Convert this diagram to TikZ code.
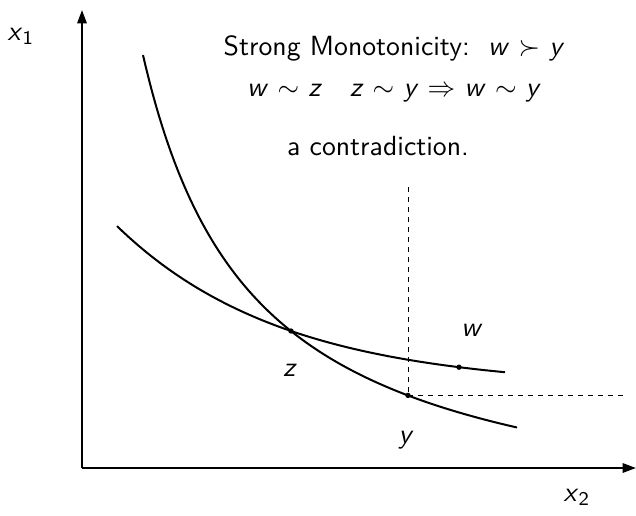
\documentclass[tikz,border=0pt]{standalone}
\usetikzlibrary{arrows.meta}
\usepackage{amsmath}
\newcommand{\mvar}[1]{\textsf{\textit{#1}}}
\tikzset{
  axis/.style={line width=1.5pt, -{Triangle[length=10pt,width=7pt]}},
  curve/.style={line width=1.5pt},
  guide/.style={line width=0.6pt, dash pattern=on 4pt off 3.5pt},
  lbl/.style={font=\sffamily, scale=2.08, inner sep=0pt},
  pt/.style={circle, fill=black, inner sep=0pt, minimum size=4pt}
}
\begin{document}
\begin{tikzpicture}[x=0.75pt,y=-0.75pt]
\useasboundingbox (0,0) rectangle (636,515);
% axes
\coordinate (O) at (82,468);
\coordinate (ytop) at (82,10);
\coordinate (xend) at (636,468);
\draw[axis] (O) -- (ytop);
\draw[axis] (O) -- (xend);
\node[lbl] (lx1) at (21,36) {$\mvar{x}_{\textsf{1}}$};
\node[lbl] (lx2) at (577,497) {$\mvar{x}_{\textsf{2}}$};
% curves
\draw[curve] plot[domain=143:517, samples=120, variable=\x] ({\x},{538 - 536/((\x-32)/100)});
\draw[curve] plot[domain=117:505, samples=120, variable=\x] ({\x},{388 - 199.7*exp(-0.006*(\x-82))});
% points
\node[pt] (z) at (291,331) {};
\node[pt] (y) at (408,395.4) {};
\node[pt] (w) at (459,367.2) {};
\coordinate (vtop) at (408,187);
\coordinate (hend) at (626,395.4);
\draw[guide] (vtop) -- (y.center);
\draw[guide] (y.center) -- (hend);
% labels
\node[lbl] (lw) at (472,330) {\mvar{w}};
\node[lbl] (lz) at (290,370) {\mvar{z}};
\node[lbl] (ly) at (406,440) {\mvar{y}};
% text
\node[lbl] (t1) at (394,48) {Strong Monotonicity:\ \ \mvar{w} $\succ$ \mvar{y}};
\node[lbl] (t2) at (394,93) {\mvar{w} $\sim$ \mvar{z}\quad \mvar{z} $\sim$ \mvar{y} $\Rightarrow$ \mvar{w} $\sim$ \mvar{y}};
\node[lbl] (t3) at (378,146) {a contradiction.};
\end{tikzpicture}
\end{document}
